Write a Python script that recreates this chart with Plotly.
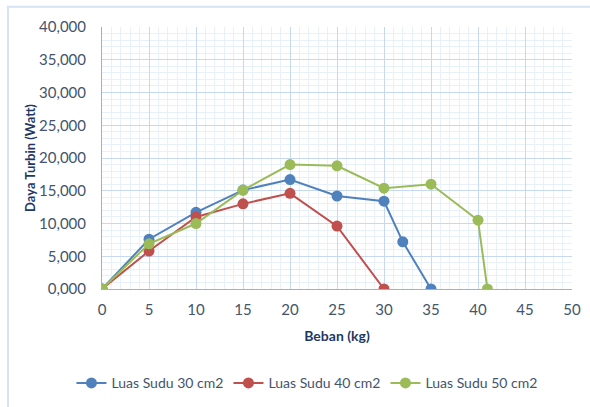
import plotly.graph_objects as go

# Load (kg) and turbine power (W) for three blade areas
beban_30 = [0, 5, 10, 15, 20, 25, 30, 32, 35]
daya_30 = [0, 7.6, 11.7, 15.1, 16.7, 14.2, 13.4, 7.2, 0]

beban_40 = [0, 5, 10, 15, 20, 25, 30]
daya_40 = [0, 5.8, 11.0, 13.0, 14.6, 9.6, 0]

beban_50 = [0, 5, 10, 15, 20, 25, 30, 35, 40, 41]
daya_50 = [0, 6.9, 10.0, 15.1, 19.0, 18.8, 15.4, 16.0, 10.5, 0]

series = [
    ("Luas Sudu 30 cm2", beban_30, daya_30, "#4F81BD"),
    ("Luas Sudu 40 cm2", beban_40, daya_40, "#C0504D"),
    ("Luas Sudu 50 cm2", beban_50, daya_50, "#9BBB59"),
]

text_color = "#44546A"
title_color = "#1F3864"
font_family = "Lato, Open Sans, sans-serif"

fig = go.Figure()
for name, xs, ys, color in series:
    fig.add_trace(go.Scatter(
        x=xs, y=ys, name=name, mode="lines+markers",
        line=dict(color=color, width=2),
        marker=dict(color=color, size=11),
    ))

fig.update_layout(
    width=590, height=407,
    margin=dict(l=102, r=18, t=27, b=118, autoexpand=False),
    paper_bgcolor="white", plot_bgcolor="white",
    separators=",.",
    font=dict(family=font_family, color=text_color, size=15),
    showlegend=True,
    legend=dict(
        orientation="h",
        x=-0.065, xanchor="left",
        y=-0.36, yanchor="middle",
        font=dict(size=14, color=text_color),
        entrywidth=112, entrywidthmode="pixels",
        bgcolor="rgba(0,0,0,0)",
    ),
    xaxis=dict(
        range=[0, 50], tickmode="linear", tick0=0, dtick=5,
        showgrid=True, gridcolor="#C6D9F1", gridwidth=1,
        minor=dict(dtick=1, showgrid=True, gridcolor="#E8F0FA", gridwidth=1),
        zeroline=False, showline=True, linecolor="#8EB4E3", linewidth=1, mirror=False,
        ticks="", ticklabelstandoff=7,
        title=dict(text="<b>Beban (kg)</b>", font=dict(size=14, color=title_color), standoff=14),
    ),
    yaxis=dict(
        range=[0, 40], tickmode="linear", tick0=0, dtick=5,
        tickformat=".3f",
        showgrid=True, gridcolor="#C6D9F1", gridwidth=1,
        minor=dict(dtick=1, showgrid=True, gridcolor="#E8F0FA", gridwidth=1),
        zeroline=False, showline=True, linecolor="#8EB4E3", linewidth=1,
        ticks="", ticklabelstandoff=12,
        title=dict(text="<b>Daya Turbin (Watt)</b>", font=dict(size=13, color=title_color), standoff=0),
    ),
    shapes=[
        dict(type="rect", xref="paper", yref="paper",
             x0=-0.2, x1=1.5, y0=-1.5, y1=1.077,
             line=dict(color="#D5E3F3", width=2), fillcolor="rgba(0,0,0,0)", layer="below"),
    ],
)

fig.write_html("out.html")
